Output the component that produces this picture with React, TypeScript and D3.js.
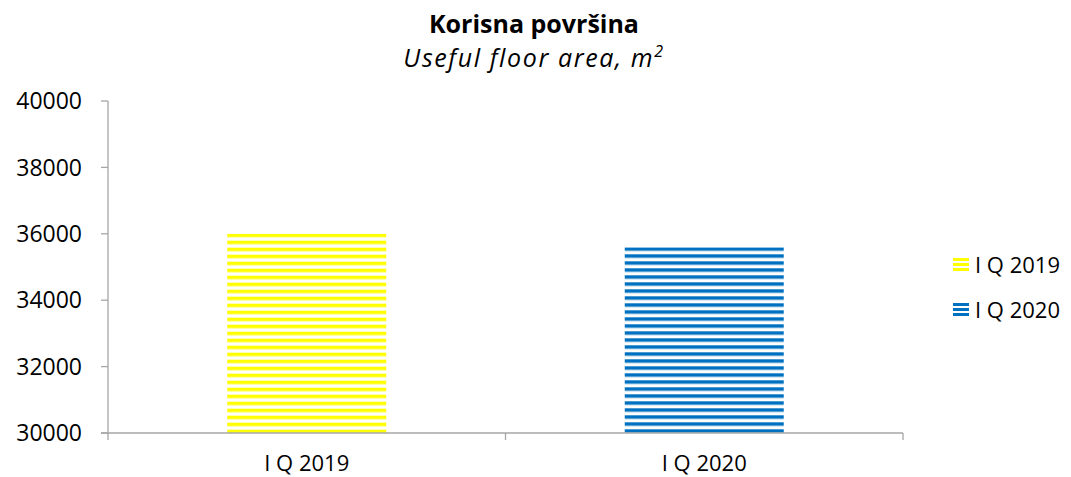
import React from "react";
import * as d3 from "d3";

const categories = ["I Q 2019", "I Q 2020"];
const values = [36000, 35590];
const colors = ["#FFFF00", "#0070C0"];
const yTicks = [30000, 32000, 34000, 36000, 38000, 40000];

const W = 1071, H = 477;
const left = 108, right = 903, top = 101, bottom = 433;

export default function App() {
  const x = d3.scaleBand<string>().domain(categories).range([left, right]).paddingInner(0.6).paddingOuter(0.3);
  const xOuter = d3.scaleBand<string>().domain(categories).range([left, right]);
  const y = d3.scaleLinear().domain([30000, 40000]).range([bottom, top]);
  const font = "'Open Sans', sans-serif";
  const legendY = [258, 303];
  return (
    <svg width={W} height={H} style={{ position: "absolute", left: 0, top: 0, background: "#fff" }}>
      <defs>
        {colors.map((c, i) => (
          <pattern key={i} id={`stripe${i}`} patternUnits="userSpaceOnUse" width={8} height={7} y={i === 0 ? 233.7 : 247.3}>
            <rect x={0} y={0} width={8} height={3.5} fill={c} />
          </pattern>
        ))}
        {colors.map((c, i) => (
          <pattern key={"l" + i} id={`lstripe${i}`} patternUnits="userSpaceOnUse" width={8} height={5} y={legendY[i]}>
            <rect x={0} y={0} width={8} height={3} fill={c} />
          </pattern>
        ))}
      </defs>
      <text x={534} y={33} textAnchor="middle" fontFamily={font} fontWeight="bold" fontSize={25} fill="#000">Korisna površina</text>
      <text x={534} y={67} textAnchor="middle" fontFamily={font} fontStyle="italic" fontSize={25} letterSpacing={1.6} fill="#000">
        Useful floor area, m<tspan fontSize={16} dy={-10}>2</tspan>
      </text>
      {categories.map((c, i) => (
        <rect key={c} x={x(c)} y={y(values[i])} width={x.bandwidth()} height={bottom - y(values[i])} fill={`url(#stripe${i})`} />
      ))}
      <line x1={left} x2={left} y1={top} y2={bottom} stroke="#A6A6A6" strokeWidth={1.3} />
      <line x1={left - 7} x2={right} y1={bottom} y2={bottom} stroke="#A6A6A6" strokeWidth={1.3} />
      {yTicks.map((t) => (
        <g key={t}>
          <line x1={left - 7} x2={left} y1={y(t)} y2={y(t)} stroke="#A6A6A6" strokeWidth={1.3} />
          <text x={82} y={y(t)} dy="0.36em" textAnchor="end" fontFamily={font} fontSize={23} fill="#000">{t}</text>
        </g>
      ))}
      {[left, ...categories.map((c) => (xOuter(c) as number) + xOuter.bandwidth())].map((px, i) => (
        <line key={i} x1={px} x2={px} y1={bottom} y2={bottom + 7} stroke="#A6A6A6" strokeWidth={1.3} />
      ))}
      {categories.map((c) => (
        <text key={c} x={(x(c) as number) + x.bandwidth() / 2} y={463} dy="0.36em" textAnchor="middle" fontFamily={font} fontSize={22} fill="#000">{c}</text>
      ))}
      {categories.map((c, i) => (
        <g key={"lg" + c}>
          <rect x={953} y={legendY[i]} width={16} height={14} fill={`url(#lstripe${i})`} />
          <text x={975} y={legendY[i] + 7} dy="0.36em" fontFamily={font} fontSize={22} fill="#000">{c}</text>
        </g>
      ))}
    </svg>
  );
}
